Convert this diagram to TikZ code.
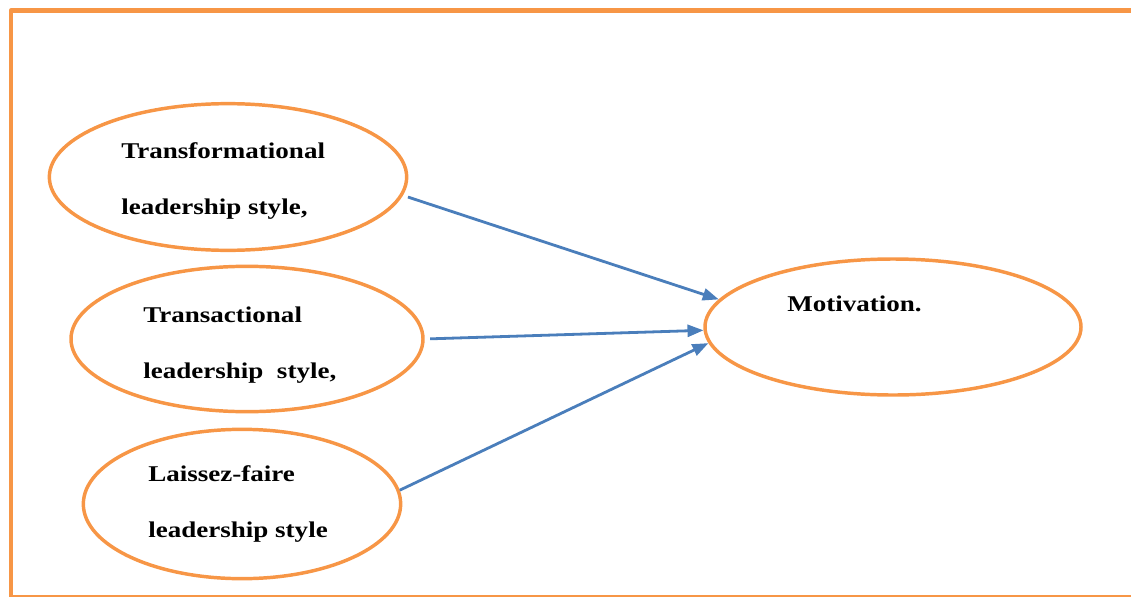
\documentclass[tikz,border=0pt]{standalone}
\usepackage{fontspec}
\setmainfont{Liberation Serif}[FakeStretch=1.2]
\usepackage{tikz}
\usetikzlibrary{arrows.meta,shapes.geometric}

\definecolor{ovalorange}{HTML}{F79646}
\definecolor{arrowblue}{HTML}{4A7EBB}

\begin{document}
\begin{tikzpicture}[x=0.75pt, y=-0.75pt,
    oval/.style={draw=ovalorange, line width=2.6pt, ellipse, inner sep=0pt},
    lbl/.style={anchor=base west, inner sep=0pt, align=left, font=\fontsize{16.9}{42}\selectfont\bfseries},
    arr/.style={-{Triangle[length=12pt,width=9pt]}, draw=arrowblue, line width=2.1pt}
]
\useasboundingbox (0,0) rectangle (1131,596);
\clip (0,0) rectangle (1131,596);

% outer frame
\draw[ovalorange, line width=3.4pt, line join=round] (1140,10.5) -- (11,10.5) -- (11,597) -- (1140,597);

% styles of leadership
\node[oval, minimum width=268pt, minimum height=110pt] (tf) at (228,177) {};
\node[oval, minimum width=264pt, minimum height=109pt] (tr) at (247,339) {};
\node[oval, minimum width=238pt, minimum height=112pt] (lf) at (242,504) {};
\node[lbl] (tftext) at (121,214) {Transformational\\leadership style,};
\node[lbl] (trtext) at (143,378) {Transactional\\leadership\ \ style,};
\node[lbl] (lftext) at (148,537) {Laissez-faire\\leadership style};

% outcome
\node[oval, minimum width=282pt, minimum height=102pt] (mot) at (893,327) {};
\node[lbl] (mottext) at (787,311) {Motivation.};

\draw[arr, shorten <=4pt] (tf.-6) -- (mot.171);
\draw[arr, shorten <=4pt] (tr.east) -- (mot.181);
\draw[arr] (lf.5) -- (mot.185);
\end{tikzpicture}
\end{document}
